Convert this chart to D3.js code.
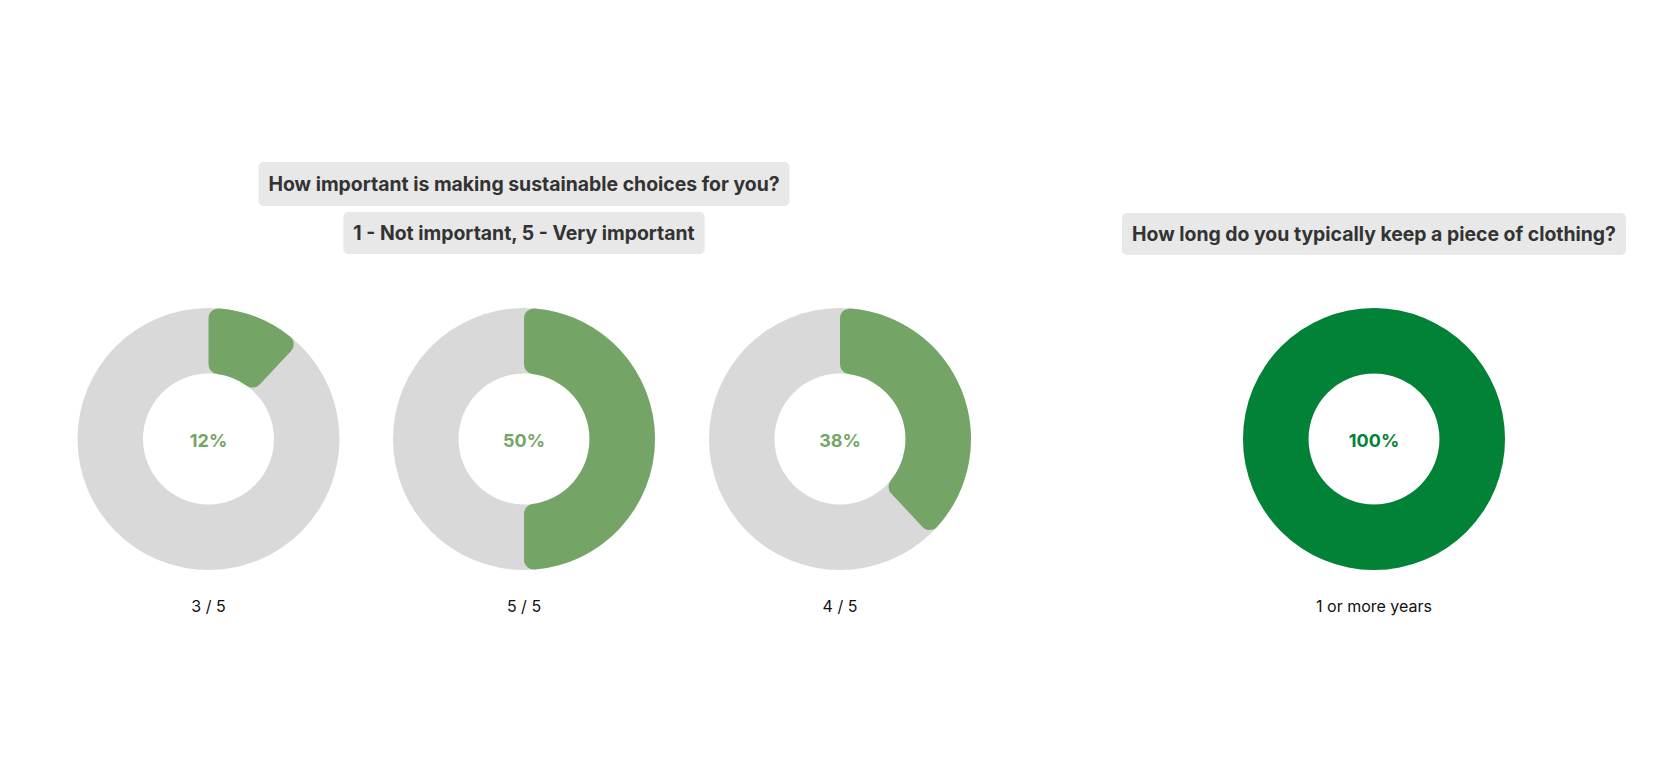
<!DOCTYPE html>
<html>
<head>
<meta charset="utf-8">
<script src="https://cdn.jsdelivr.net/npm/d3@7"></script>
<style>
  html, body { margin: 0; padding: 0; background: #fff; }
  svg { display: block; font-family: Inter, "Noto Sans", sans-serif; }
</style>
</head>
<body>
<svg id="chart" width="1679" height="779"></svg>
<script>
// Data
const groupTitles = [
  ["How important is making sustainable choices for you?", "1 - Not important, 5 - Very important"],
  ["How long do you typically keep a piece of clothing?"]
];
const donutLabels = ["3 / 5", "5 / 5", "4 / 5", "1 or more years"];
const donutValues = [12, 50, 38, 100];
const donutGroup = [0, 0, 0, 1];

const svg = d3.select("#chart");
const W = 1679, H = 779;

// Layout
const centersX = [208.5, 524, 840, 1374];
const cy = 439;
const outerR = 131, innerR = 65.5;
const colLight = "#74a567", colDark = "#018237", colGray = "#d9d9d9";

const pct = d3.scaleLinear().domain([0, 100]).range([0, 2 * Math.PI]);
const arcBg = d3.arc().innerRadius(innerR).outerRadius(outerR).startAngle(0).endAngle(2 * Math.PI);
const arcFg = d3.arc().innerRadius(innerR).outerRadius(outerR).cornerRadius(10);

donutValues.forEach((v, i) => {
  const g = svg.append("g").attr("transform", `translate(${centersX[i]},${cy})`);
  const color = v >= 100 ? colDark : colLight;
  g.append("path").attr("d", arcBg()).attr("fill", colGray);
  g.append("path")
    .attr("d", arcFg({startAngle: 0, endAngle: pct(v)}))
    .attr("fill", color);
  g.append("text")
    .attr("text-anchor", "middle")
    .attr("dominant-baseline", "central")
    .attr("y", 1)
    .attr("font-size", 18)
    .attr("font-weight", 700)
    .attr("fill", color)
    .text(v + "%");
  g.append("text")
    .attr("text-anchor", "middle")
    .attr("dominant-baseline", "central")
    .attr("y", 606 - cy)
    .attr("font-size", 16)
    .attr("fill", "#111")
    .text(donutLabels[i]);
});

// Title boxes
const groupCenters = [524, 1374];
const titleRowsY = [[184, 233], [234]];
groupTitles.forEach((rows, gi) => {
  rows.forEach((t, ri) => {
    const g = svg.append("g").attr("transform", `translate(${groupCenters[gi]},${titleRowsY[gi][ri]})`);
    const rect = g.append("rect").attr("fill", "#e8e8e8").attr("rx", 5).attr("ry", 5);
    const txt = g.append("text")
      .attr("text-anchor", "middle")
      .attr("dominant-baseline", "central")
      .attr("font-size", 19.4)
      .attr("font-weight", 700)
      .attr("fill", "#333")
      .text(t);
    const w = txt.node().getComputedTextLength();
    const bh = gi === 0 && ri === 0 ? 44 : 42;
    rect.attr("x", -w / 2 - 10).attr("width", w + 20).attr("y", -bh / 2).attr("height", bh);
  });
});
</script>
</body>
</html>
